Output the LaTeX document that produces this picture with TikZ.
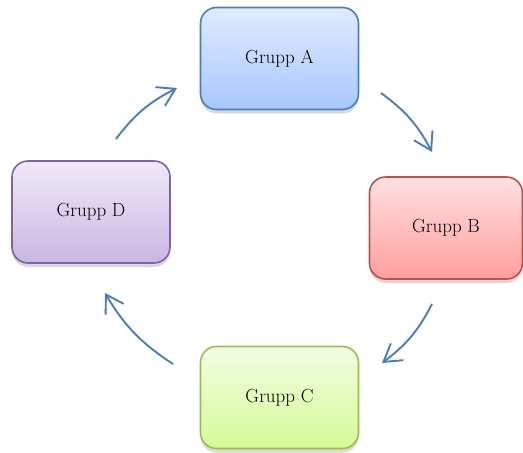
\documentclass[tikz,border=0pt]{standalone}
\usepackage{fontspec}
\usetikzlibrary{arrows.meta,shadows}

\definecolor{arrowblue}{RGB}{74,126,187}
\definecolor{blueline}{RGB}{74,126,187}
\definecolor{bluetop}{RGB}{224,235,255}
\definecolor{bluebot}{RGB}{168,199,255}
\definecolor{redline}{RGB}{192,80,77}
\definecolor{redtop}{RGB}{255,224,224}
\definecolor{redbot}{RGB}{255,158,158}
\definecolor{greenline}{RGB}{155,187,89}
\definecolor{greentop}{RGB}{243,253,228}
\definecolor{greenbot}{RGB}{213,250,148}
\definecolor{purpleline}{RGB}{128,100,162}
\definecolor{purpletop}{RGB}{239,233,247}
\definecolor{purplebot}{RGB}{200,182,228}

\begin{document}
\begin{tikzpicture}[x=1pt, y=-1pt,
  grupp/.style={draw, line width=1.6pt, rounded corners=16pt,
    minimum width=158pt, minimum height=102pt,
    font=\fontsize{19}{23}\selectfont,
    drop shadow={shadow xshift=0pt, shadow yshift=-4pt, opacity=0.3}},
  gruppA/.style={draw=blueline, top color=bluetop, bottom color=bluebot},
  gruppB/.style={draw=redline, top color=redtop, bottom color=redbot},
  gruppC/.style={draw=greenline, top color=greentop, bottom color=greenbot},
  gruppD/.style={draw=purpleline, top color=purpletop, bottom color=purplebot},
  flow/.style={draw=arrowblue, line width=1.9pt,
    -{Straight Barb[length=17pt, width=21pt]}}]

  \useasboundingbox (0,0) rectangle (523,453);

  \node[grupp, gruppA] (A) at (279.5,58.5) {Grupp A};
  \node[grupp, gruppB, minimum width=153pt] (B) at (446,228) {Grupp B};
  \node[grupp, gruppC] (C) at (279.5,397.5) {Grupp C};
  \node[grupp, gruppD] (D) at (91,212) {Grupp D};

  \coordinate (ab1) at (381,93);  \coordinate (ab2) at (432,152);
  \coordinate (bc1) at (432,304); \coordinate (bc2) at (382,363);
  \coordinate (cd1) at (173,364); \coordinate (cd2) at (105,293);
  \coordinate (da1) at (116,139); \coordinate (da2) at (177,88);

  \draw[flow] (ab1) to[bend left=13] (ab2);
  \draw[flow] (bc1) to[bend left=13] (bc2);
  \draw[flow] (cd1) to[bend left=13] (cd2);
  \draw[flow] (da1) to[bend left=13] (da2);

\end{tikzpicture}
\end{document}
